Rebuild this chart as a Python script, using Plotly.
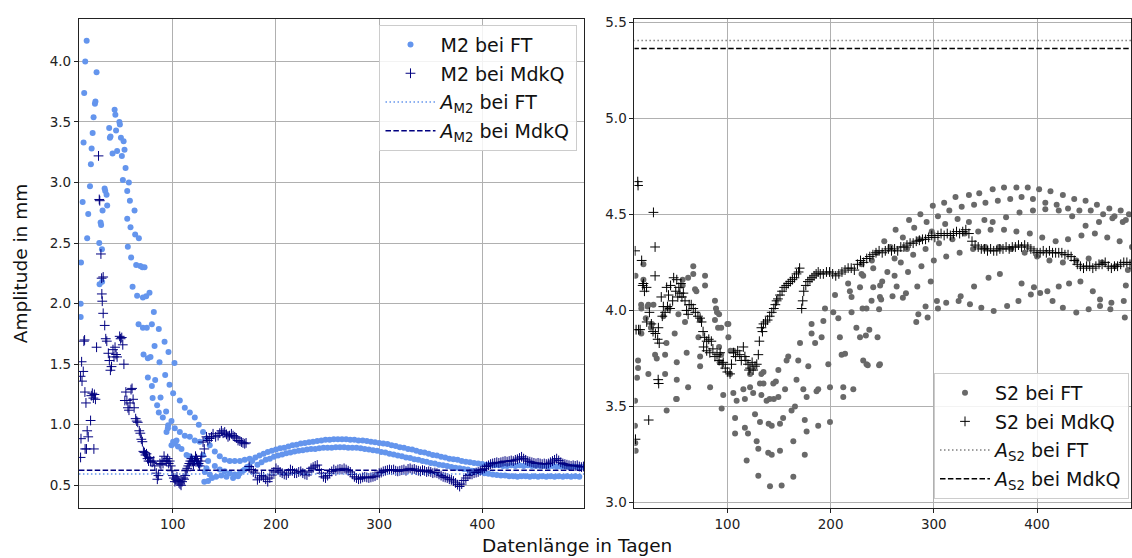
import plotly.graph_objects as go

# ------------------------------------------------------------------
# Data
# ------------------------------------------------------------------
# --- M2, Fourier transform (FT): scattered early points ---
m2_ft_early_days = [
    10.7, 10.7, 11.0, 12.6, 13.5, 14.1, 15.1, 16.5, 17.0, 18.0,
    19.7, 20.6, 21.3, 22.3, 23.2, 24.5, 25.0, 26.1, 28.7, 29.0,
    30.0, 30.5, 31.3, 31.5, 31.9, 33.9, 34.5, 35.8, 36.4, 38.3,
    39.0, 39.6, 41.6, 43.6, 44.3, 45.0, 46.0, 48.2, 48.7, 49.7,
    50.6, 51.6, 52.3, 53.2, 54.2, 55.8, 55.8, 56.4, 57.4, 58.4,
    59.0, 59.6, 61.0, 62.9, 63.5, 64.5, 65.4, 66.8, 67.1, 68.5,
    70.5, 71.0, 71.0, 71.6, 72.6, 74.2, 74.8, 75.8, 75.8, 77.4,
    78.4, 79.7, 79.7, 80.4, 81.6, 82.3, 82.9, 84.8, 86.4, 86.4,
    87.1, 88.1, 90.3, 92.0, 92.6, 93.5, 93.9, 95.2, 95.5, 95.8,
    96.8, 98.7, 98.7, 100.3, 100.3, 101.6, 101.9, 102.0, 103.6, 105.0,
    106.8, 106.8, 108.4, 111.6, 111.6, 113.3, 116.5, 116.5, 116.5, 119.5,
    121.3, 121.3, 122.6, 125.2, 126.1, 126.1, 129.3, 129.3, 130.5, 131.0,
    132.6, 132.6, 134.2, 134.2, 135.8, 135.8, 138.0, 140.7, 140.7, 142.0,
    145.5, 145.5, 147.0, 150.3, 150.3, 152.0, 155.2, 155.2, 158.4, 160.0,
    160.0, 163.2, 165.0, 165.0, 168.0, 169.7, 169.7, 172.0, 174.5, 174.5,
    177.0,
]
m2_ft_early_amp = [
    2.00, 1.89, 2.34, 2.84, 3.33, 3.74, 4.00, 4.17, 2.54, 2.74,
    2.97, 3.15, 3.28, 3.41, 3.54, 3.65, 3.67, 3.91, 2.50, 2.16,
    2.67, 2.65, 2.45, 2.18, 2.77, 2.95, 2.93, 2.90, 2.81, 3.45,
    3.37, 3.38, 3.24, 3.60, 3.56, 3.43, 3.26, 3.50, 3.48, 3.37,
    3.22, 3.02, 3.34, 3.27, 3.12, 2.93, 2.70, 2.47, 3.00, 2.85,
    2.63, 2.38, 2.14, 2.77, 2.57, 2.32, 2.065, 1.83, 2.54, 2.31,
    2.30, 2.05, 1.80, 1.58, 2.30, 2.06, 1.80, 1.55, 1.39, 2.09,
    1.56, 1.83, 1.32, 1.22, 1.93, 1.65, 1.37, 1.16, 1.79, 1.10,
    1.515, 1.225, 1.06, 1.685, 1.41, 1.11, 0.94, 0.97, 0.995, 1.60,
    1.33, 1.03, 0.83, 1.26, 0.86, 1.51, 0.97, 0.845, 0.87, 0.82,
    1.20, 0.94, 0.80, 1.14, 0.91, 0.75, 1.10, 0.90, 0.74, 0.72,
    1.06, 0.87, 0.70, 1.00, 0.86, 0.67, 0.94, 0.75, 0.53, 0.61,
    0.886, 0.64, 0.70, 0.535, 0.83, 0.59, 0.56, 0.78, 0.66, 0.57,
    0.74, 0.63, 0.58, 0.71, 0.615, 0.57, 0.70, 0.60, 0.56, 0.70,
    0.59, 0.575, 0.70, 0.60, 0.62, 0.71, 0.63, 0.65, 0.72, 0.66,
    0.70,
]
# --- M2 FT: dense band after day 180 (upper branch every 4 days from 180) ---
m2_ft_upper_start = 180
m2_ft_upper_amp = [
    0.73, 0.745, 0.76, 0.775, 0.785, 0.795, 0.805, 0.81, 0.82, 0.83,
    0.835, 0.845, 0.85, 0.855, 0.86, 0.865, 0.87, 0.875, 0.875, 0.88,
    0.88, 0.88, 0.88, 0.875, 0.875, 0.87, 0.87, 0.865, 0.86, 0.855,
    0.85, 0.845, 0.84, 0.83, 0.825, 0.815, 0.81, 0.80, 0.795, 0.785,
    0.775, 0.77, 0.76, 0.75, 0.745, 0.735, 0.73, 0.72, 0.715, 0.71,
    0.70, 0.695, 0.69, 0.685, 0.68, 0.675, 0.67, 0.67, 0.665, 0.665,
    0.66, 0.66, 0.665, 0.66, 0.665, 0.66, 0.665, 0.66, 0.66, 0.66,
    0.66, 0.655, 0.66, 0.655, 0.655, 0.655, 0.65, 0.655, 0.65, 0.65,
]
# lower branch every 4 days from 182
m2_ft_lower_start = 182
m2_ft_lower_amp = [
    0.67, 0.69, 0.71, 0.72, 0.735, 0.745, 0.755, 0.765, 0.77, 0.78,
    0.785, 0.79, 0.795, 0.80, 0.80, 0.805, 0.81, 0.81, 0.81, 0.815,
    0.815, 0.815, 0.81, 0.81, 0.81, 0.805, 0.80, 0.795, 0.79, 0.785,
    0.775, 0.77, 0.76, 0.755, 0.745, 0.74, 0.73, 0.725, 0.715, 0.71,
    0.70, 0.695, 0.685, 0.68, 0.67, 0.665, 0.66, 0.65, 0.645, 0.64,
    0.635, 0.63, 0.62, 0.615, 0.61, 0.60, 0.595, 0.59, 0.585, 0.58,
    0.58, 0.575, 0.575, 0.57, 0.575, 0.575, 0.57, 0.575, 0.57, 0.575,
    0.57, 0.575, 0.57, 0.575, 0.57, 0.575, 0.57, 0.575, 0.57,
]

# --- M2, least squares (MdkQ): early scattered points ---
m2_mdkq_early_days = [
    10.6, 11.0, 10.6, 11.6, 12.0, 13.2, 13.8, 14.5, 14.8, 15.8,
    15.0, 16.3, 17.0, 18.0, 20.3, 21.0, 22.0, 23.0, 24.0, 25.0,
    23.5, 26.1, 28.0, 28.7, 29.2, 30.3, 31.0, 32.5, 31.2, 31.6,
    32.5, 34.0, 35.0, 36.0, 37.5, 38.5, 39.5, 40.6, 42.0, 43.0,
    44.0, 45.0, 46.0, 48.5, 49.4, 50.5, 51.5, 52.6, 53.5, 54.5,
    55.5, 56.5, 57.5, 58.5, 59.5, 60.5, 61.5, 62.5, 64.0, 65.0,
    66.0, 67.5, 68.5, 69.5, 70.5, 71.5, 72.5, 73.5, 74.5, 75.5,
    76.5, 77.5, 78.5, 80.0, 81.5, 82.5,
    84.0, 85.0, 86.0, 87.5, 88.5, 89.5, 90.5, 91.5, 92.5, 94.0,
    95.0, 96.0, 97.0, 98.0, 99.0, 100.0, 101.0, 102.0, 103.0, 104.0,
    105.0, 106.0, 107.0, 108.0, 109.0, 110.0, 111.0, 112.0, 113.0, 114.0,
    115.0, 116.0, 117.0, 118.0, 119.0, 120.0, 121.0, 122.0, 123.0, 124.0,
    125.0, 126.0, 127.0, 128.0,
    129.3, 130.5, 132.6, 134.0, 135.8, 137.5, 139.0, 141.5, 143.9, 145.5,
    147.1, 148.7, 150.3, 152.0, 153.5, 155.0, 156.8, 158.4, 160.0, 161.6,
    163.2, 165.0, 166.5, 168.0, 169.7, 171.0,
]
m2_mdkq_early_amp = [
    0.73, 0.885, 1.40, 1.52, 1.36, 1.44, 1.69, 1.70, 1.27, 1.18,
    0.80, 0.80, 0.95, 0.90, 1.035, 1.24, 1.26, 1.22, 1.25, 1.21,
    0.80, 1.64, 3.22, 2.86, 2.85, 2.41, 2.21, 2.22, 2.08, 2.02,
    1.92, 1.82, 1.71, 1.69, 1.59, 1.53, 1.45, 1.48, 1.62, 1.56,
    1.64, 1.58, 1.56, 1.73, 1.71, 1.72, 1.66, 1.50, 1.20, 1.27,
    1.20, 1.14, 1.12, 1.18, 1.29, 1.30, 1.21, 1.14, 1.05, 1.03,
    1.02, 0.95, 0.93, 0.88, 0.86, 0.78, 0.77, 0.75, 0.76, 0.72,
    0.70, 0.73, 0.70, 0.69, 0.70, 0.66,
    0.60, 0.55, 0.58, 0.68, 0.67, 0.70, 0.68, 0.74, 0.70, 0.70,
    0.72, 0.68, 0.70, 0.66, 0.62, 0.58, 0.56, 0.53, 0.55, 0.57,
    0.54, 0.52, 0.51, 0.50, 0.53, 0.56, 0.55, 0.58, 0.62, 0.64,
    0.66, 0.68, 0.70, 0.72, 0.70, 0.67, 0.70, 0.74, 0.72, 0.70,
    0.68, 0.66, 0.70, 0.74,
    0.857, 0.80, 0.90, 0.87, 0.886, 0.90, 0.925, 0.90, 0.91, 0.93,
    0.95, 0.93, 0.94, 0.92, 0.90, 0.91, 0.925, 0.91, 0.90, 0.89,
    0.87, 0.865, 0.857, 0.85, 0.843, 0.85,
]
# --- M2 MdkQ: every 2 days from day 174 ---
m2_mdkq_late_start = 174
m2_mdkq_late_amp = [
    0.655, 0.63, 0.61, 0.60, 0.545, 0.56, 0.58, 0.57, 0.55, 0.53,     # 174-192
    0.56, 0.585, 0.61, 0.64, 0.625, 0.61, 0.60, 0.59, 0.585, 0.60,    # 194-212
    0.63, 0.62, 0.60, 0.60, 0.61, 0.615, 0.60, 0.59, 0.585, 0.61,     # 214-232
    0.64, 0.65, 0.66, 0.667, 0.63, 0.60, 0.57, 0.56, 0.58, 0.60,      # 234-252
    0.615, 0.63, 0.62, 0.63, 0.635, 0.63, 0.64, 0.63, 0.62, 0.61,     # 254-272
    0.59, 0.57, 0.56, 0.55, 0.555, 0.565, 0.57, 0.565, 0.56, 0.565,   # 274-292
    0.57, 0.575, 0.585, 0.60, 0.605, 0.615, 0.62, 0.625, 0.63, 0.625, # 294-312
    0.63, 0.62, 0.615, 0.62, 0.625, 0.63, 0.62, 0.635, 0.64, 0.63,    # 314-332
    0.635, 0.625, 0.62, 0.615, 0.625, 0.62, 0.61, 0.615, 0.61, 0.60,  # 334-352
    0.605, 0.60, 0.59, 0.58, 0.57, 0.565, 0.56, 0.55, 0.545, 0.535,   # 354-372
    0.52, 0.505, 0.49, 0.51, 0.54, 0.56, 0.58, 0.59, 0.59, 0.60,      # 374-392
    0.605, 0.61, 0.62, 0.63, 0.64, 0.655, 0.665, 0.675, 0.68, 0.685,  # 394-412
    0.69, 0.685, 0.69, 0.695, 0.70, 0.695, 0.70, 0.705, 0.70, 0.71,   # 414-432
    0.715, 0.725, 0.735, 0.72, 0.71, 0.70, 0.695, 0.69, 0.685, 0.68,  # 434-452
    0.685, 0.68, 0.675, 0.68, 0.675, 0.68, 0.69, 0.70, 0.71, 0.72,    # 454-472
    0.705, 0.69, 0.68, 0.675, 0.67, 0.665, 0.66, 0.665, 0.66, 0.665,  # 474-492
    0.655, 0.65, 0.655,                                               # 494-498
]
m2_mean_ft = 0.594
m2_mean_mdkq = 0.624

# --- S2, FT: scattered points before ~day 250 ---
s2_ft_early_days = [
    10.6, 10.5, 10.8, 11.2, 13.5, 13.5, 12.5, 18.7, 18.7, 23.5,
    28.4, 16.7, 16.7, 21.0, 26.0, 23.5, 31.6, 41.2, 39.7, 39.7,
    38.0, 43.0, 41.0, 49.0, 51.0, 51.0, 51.0, 60.6, 62.0, 52.6,
    59.0, 56.7, 56.7, 67.0, 67.0, 68.7, 78.4, 78.4, 73.6, 72.0,
    73.6, 73.6, 83.3, 88.0, 90.0, 88.0, 91.0, 94.0, 92.0, 94.0,
    92.5, 94.5, 96.0, 101.0, 101.0, 103.0, 106.0, 102.6, 105.8, 107.5,
    107.5, 109.0, 115.5, 117.0, 117.0, 118.7, 120.0, 122.0, 125.0, 122.0,
    126.8, 128.4, 130.0, 130.0, 131.6, 131.6, 135.0, 133.0, 138.0, 135.0,
    133.0, 140.0, 143.0, 151.0, 141.3, 152.6, 139.6, 143.0, 151.0, 141.0,
    145.0, 149.4, 144.5, 147.0, 149.4, 154.0, 155.9, 157.4, 159.0, 163.9,
    162.2, 165.5, 163.9, 167.0, 168.7, 170.4, 173.6, 176.8, 175.0, 175.0,
    176.8, 178.4, 181.6, 181.6, 185.0, 186.4, 188.0, 188.0, 191.3, 193.0,
    194.6, 197.8, 199.4, 199.4, 202.6, 204.3, 207.5, 209.0, 210.7, 214.0,
    212.3, 212.3, 217.0, 218.7, 220.3, 220.3, 222.0, 225.0, 228.5, 228.5,
    230.0, 231.6, 231.6, 234.8, 234.8, 239.7, 241.3, 241.3, 247.8, 247.8,
    230.0, 240.0, 245.0, 234.2, 237.5, 245.5, 236.0, 247.0, 11.0, 16.5,
    22.7, 27.0, 30.0, 50.4, 89.0, 92.0, 100.0, 62.0, 70.0,
]
s2_ft_early_amp = [
    3.53, 3.40, 3.31, 3.27, 3.74, 3.70, 3.65, 4.24, 4.16, 4.03,
    4.03, 4.01, 3.88, 3.96, 3.91, 3.67, 3.75, 3.48, 3.77, 3.67,
    3.97, 4.01, 3.83, 3.88, 3.73, 3.64, 3.54, 3.78, 3.60, 3.98,
    3.94, 4.16, 4.13, 4.23, 4.19, 4.11, 4.18, 4.13, 3.95, 3.86,
    3.76, 3.71, 3.60, 4.05, 3.99, 3.95, 3.91, 3.91, 3.81, 3.77,
    3.73, 3.49, 3.56, 3.93, 3.86, 3.79, 3.79, 3.67, 3.57, 3.44,
    3.36, 3.53, 3.59, 3.54, 3.39, 3.22, 3.36, 3.60, 3.57, 3.67,
    3.46, 3.32, 3.28, 3.14, 3.42, 3.62, 3.62, 3.56, 3.53, 3.68,
    3.67, 3.41, 3.40, 3.41, 3.085, 3.09, 3.26, 3.25, 3.27, 3.54,
    3.54, 3.55, 3.62, 3.63, 3.69, 3.44, 3.59, 3.74, 3.76, 3.135,
    3.48, 3.50, 3.32, 3.64, 3.74, 3.83, 3.59, 3.55, 3.43, 3.25,
    3.37, 3.71, 3.93, 3.88, 3.83, 3.58, 3.59, 3.40, 3.86, 3.945,
    4.01, 3.72, 3.60, 3.42, 3.99, 4.08, 3.96, 3.86, 3.77, 3.775,
    3.60, 3.55, 4.14, 4.10, 4.07, 3.99, 3.59, 3.91, 3.86, 4.12,
    4.19, 4.18, 3.74, 4.01, 3.72, 4.05, 4.12, 4.22, 4.07, 3.72,
    4.24, 4.26, 4.30, 3.87, 3.90, 3.86, 3.715, 3.715, 4.18, 4.03,
    4.02, 3.93, 3.77, 3.54, 4.01, 3.98, 3.93, 4.17, 4.10,
]
# --- S2 FT: branches after ~day 230 ---
s2_ft_row1_days = [252, 263, 276, 287, 299, 310, 321, 334, 344, 357, 368,
                   380, 391, 402, 413, 425, 436, 447, 458, 470, 481, 489]
s2_ft_row1_amp = [4.36, 4.42, 4.47, 4.50, 4.545, 4.56, 4.59, 4.60, 4.61, 4.63, 4.64,
                  4.64, 4.64, 4.63, 4.62, 4.60, 4.58, 4.57, 4.55, 4.53, 4.52, 4.50]
s2_ft_row2_days = [258, 270, 281, 293, 304, 315, 327, 339, 350, 362, 374,
                   385, 396, 408, 419, 430, 441, 452, 464, 475, 486]
s2_ft_row2_amp = [4.33, 4.38, 4.43, 4.46, 4.49, 4.52, 4.54, 4.55, 4.56, 4.57, 4.58,
                  4.59, 4.58, 4.56, 4.55, 4.53, 4.52, 4.52, 4.50, 4.49, 4.47]
s2_ft_row3_days = [262, 274, 286, 298, 311, 323, 334, 349, 357, 370,
                   383, 396, 408, 421, 434, 447, 460, 473, 483]
s2_ft_row3_amp = [4.27, 4.32, 4.37, 4.41, 4.45, 4.476, 4.46, 4.47, 4.46, 4.485,
                  4.51, 4.52, 4.527, 4.52, 4.49, 4.44, 4.46, 4.48, 4.46]
s2_ft_row4_days = [255, 268, 280, 292, 305, 318, 330, 343, 355, 368,
                   380, 393, 405, 418, 430, 443, 456, 468, 480, 492]
s2_ft_row4_amp = [4.20, 4.25, 4.29, 4.32, 4.35, 4.37, 4.40, 4.41, 4.42, 4.42,
                  4.41, 4.40, 4.38, 4.36, 4.37, 4.39, 4.40, 4.38, 4.36, 4.33]
s2_ft_row5_days = [250, 262, 275, 288, 300, 312, 325, 338, 350, 363,
                   375, 388, 400, 412, 425, 438, 450, 463, 476, 488]
s2_ft_row5_amp = [4.15, 4.18, 4.20, 4.23, 4.26, 4.28, 4.30, 4.32, 4.33, 4.33,
                  4.32, 4.30, 4.28, 4.26, 4.25, 4.26, 4.27, 4.25, 4.23, 4.21]
s2_ft_row6_days = [248, 264, 284, 297, 339, 353, 364, 385, 397, 410, 421, 431, 442, 454, 486]
s2_ft_row6_amp = [4.13, 4.125, 4.125, 4.15, 4.125, 4.17, 4.19, 4.14, 4.12, 4.10,
                  4.125, 4.14, 4.15, 4.10, 4.13]
s2_ft_row7_days = [231, 247, 249, 260, 270, 273, 285, 283, 292, 294,
                   303, 304, 312, 324, 326, 335, 346, 358, 371, 382,
                   394, 403, 415, 425, 438, 450, 461, 461, 472, 471, 484, 485]
s2_ft_row7_amp = [4.01, 4.006, 4.057, 4.074, 4.066, 4.09, 3.98, 3.94, 4.02, 3.963,
                  4.049, 4.01, 4.04, 4.049, 4.074, 4.032, 4.014, 3.997, 4.023, 4.049,
                  4.083, 4.091, 4.049, 4.014, 3.989, 4.006, 4.057, 4.023, 4.04, 4.006,
                  4.049, 3.963]

# --- S2 MdkQ: early scattered points ---
s2_mdkq_early_days = [
    10.6, 11.0, 11.6, 13.2, 13.5, 14.0, 15.5, 17.0, 18.0, 18.7,
    19.7, 21.7, 21.9, 23.8, 24.5, 26.4, 28.4, 28.0, 30.0, 30.0,
    30.3, 32.5, 33.0, 33.5, 33.2, 34.0, 36.0, 37.0, 38.0, 39.7,
    41.2, 42.0, 43.0, 44.5, 45.0, 47.0, 48.0, 50.0, 51.0, 52.0,
    53.0, 54.0, 55.0, 56.0, 57.4, 59.0, 60.5, 62.0, 63.0, 65.0,
    67.0, 69.0, 71.5, 73.6, 75.0, 76.5, 77.0, 78.0, 80.0, 80.0,
    82.0, 83.0, 84.5, 86.0, 88.0, 90.0, 92.0, 93.0, 95.0, 96.0,
    98.0, 100.0, 102.6, 104.0, 106.0, 108.0, 110.0, 112.0, 113.5, 115.5,
    117.0, 118.0, 120.0, 121.0, 122.0, 124.0, 125.0, 126.8, 128.5, 130.0,
    131.0, 133.0, 134.0, 135.0, 137.0, 139.0, 141.0, 143.0, 145.0, 146.5,
    147.7, 149.0, 151.0, 153.0, 155.0, 157.0, 159.0, 161.0, 163.0, 165.0,
    167.0, 169.0, 170.0,
    172.0, 173.0, 174.0, 176.0, 178.0, 180.0, 182.0, 184.0, 186.0, 188.0,
]
s2_mdkq_early_amp = [
    4.31, 3.33, 3.90, 4.67, 4.65, 3.90, 3.90, 4.26, 4.13, 4.14,
    4.10, 4.12, 3.94, 3.43, 3.99, 3.93, 4.51, 3.89, 4.33, 4.18,
    3.88, 3.85, 3.64, 3.62, 3.91, 3.83, 4.07, 3.97, 4.02, 3.99,
    4.12, 4.02, 4.08, 4.01, 4.13, 4.05, 4.17, 4.10, 4.16, 4.07,
    4.12, 4.09, 4.14, 4.07, 4.09, 4.05, 4.00, 3.98, 4.03, 4.03,
    4.01, 3.99, 3.97, 3.96, 3.94, 3.89, 3.81, 3.86, 3.84, 3.79,
    3.85, 3.78, 3.84, 3.80, 3.76, 3.77, 3.74, 3.78, 3.72, 3.73,
    3.70, 3.68, 3.67, 3.72, 3.78, 3.76, 3.79, 3.77, 3.74, 3.81,
    3.76, 3.74, 3.72, 3.69, 3.70, 3.73, 3.69, 3.71, 3.72, 3.77,
    3.84, 3.91, 3.89, 3.93, 3.94, 3.95, 3.97, 3.99, 4.01, 4.03,
    4.05, 4.06, 4.08, 4.10, 4.12, 4.13, 4.14, 4.15, 4.16, 4.17,
    4.19, 4.20, 4.22,
    4.01, 4.05, 4.10, 4.13, 4.15, 4.16, 4.17, 4.18, 4.19, 4.20,
]
# --- S2 MdkQ: every 3 days from day 190 ---
s2_mdkq_late_start = 190
s2_mdkq_late_amp = [
    4.19, 4.19, 4.20, 4.20, 4.19, 4.18, 4.19, 4.20, 4.21, 4.22,    # 190-217
    4.22, 4.21, 4.24, 4.26, 4.25, 4.27, 4.28, 4.29, 4.30, 4.31,    # 220-247
    4.30, 4.31, 4.32, 4.31, 4.32, 4.31, 4.33, 4.33, 4.34, 4.35,    # 250-277
    4.35, 4.36, 4.365, 4.37, 4.37, 4.38, 4.39, 4.38, 4.39, 4.40,   # 280-307
    4.39, 4.40, 4.39, 4.40, 4.41, 4.40, 4.41, 4.42, 4.40, 4.36,    # 310-337
    4.34, 4.33, 4.32, 4.32, 4.31, 4.32, 4.31, 4.31, 4.32, 4.32,    # 340-367
    4.33, 4.32, 4.33, 4.33, 4.34, 4.33, 4.34, 4.33, 4.32, 4.31,    # 370-397
    4.30, 4.30, 4.31, 4.30, 4.31, 4.30, 4.30, 4.30, 4.30, 4.29,    # 400-427
    4.29, 4.28, 4.26, 4.24, 4.23, 4.22, 4.23, 4.23, 4.22, 4.23,    # 430-457
    4.24, 4.24, 4.25, 4.23, 4.22, 4.23, 4.23, 4.24, 4.25, 4.25,    # 460-487
    4.24, 4.25, 4.24, 4.24,                                        # 490-499
]
s2_mean_ft = 5.404
s2_mean_mdkq = 5.363

x_range_left = [9, 499]
x_range_right = [10, 491]
y_range_left = [0.315, 4.352]
y_range_right = [2.974, 5.517]
ticks_x = [100, 200, 300, 400]
ticks_y_left = [0.5, 1.0, 1.5, 2.0, 2.5, 3.0, 3.5, 4.0]
ticks_y_right = [3.0, 3.5, 4.0, 4.5, 5.0, 5.5]

# ------------------------------------------------------------------
# Assemble series
# ------------------------------------------------------------------
def grid(start, step, n):
    return [start + step * i for i in range(n)]

m2_ft_days = (m2_ft_early_days
              + grid(m2_ft_upper_start, 4, len(m2_ft_upper_amp))
              + grid(m2_ft_lower_start, 4, len(m2_ft_lower_amp)))
m2_ft_amp = m2_ft_early_amp + m2_ft_upper_amp + m2_ft_lower_amp
m2_mdkq_days = m2_mdkq_early_days + grid(m2_mdkq_late_start, 2, len(m2_mdkq_late_amp))
m2_mdkq_amp = m2_mdkq_early_amp + m2_mdkq_late_amp

s2_ft_days = (s2_ft_early_days + s2_ft_row1_days + s2_ft_row2_days + s2_ft_row3_days
              + s2_ft_row4_days + s2_ft_row5_days + s2_ft_row6_days + s2_ft_row7_days)
s2_ft_amp = (s2_ft_early_amp + s2_ft_row1_amp + s2_ft_row2_amp + s2_ft_row3_amp
             + s2_ft_row4_amp + s2_ft_row5_amp + s2_ft_row6_amp + s2_ft_row7_amp)
s2_mdkq_days = s2_mdkq_early_days + grid(s2_mdkq_late_start, 3, len(s2_mdkq_late_amp))
s2_mdkq_amp = s2_mdkq_early_amp + s2_mdkq_late_amp

# ------------------------------------------------------------------
# Figure
# ------------------------------------------------------------------
W, H = 1132, 558
FONT = "DejaVu Sans"
C_M2_FT = "#6495ED"
C_M2_MQ = "#000080"
C_S2_FT = "#696969"
C_S2_MQ = "#000000"
DOT = "1.5px,2.5px"
DASH = "5.5px,2.4px"

fig = go.Figure()

fig.add_trace(go.Scatter(
    x=m2_ft_days, y=m2_ft_amp, mode="markers", name="M2 bei FT",
    marker=dict(symbol="circle", size=6, color=C_M2_FT),
    xaxis="x", yaxis="y", legend="legend", legendgroup="l1"))
fig.add_trace(go.Scatter(
    x=m2_mdkq_days, y=m2_mdkq_amp, mode="markers", name="M2 bei MdkQ",
    marker=dict(symbol="cross-thin", size=7, color=C_M2_MQ,
                line=dict(width=1, color=C_M2_MQ)),
    xaxis="x", yaxis="y", legend="legend", legendgroup="l2"))
fig.add_trace(go.Scatter(
    x=x_range_left, y=[m2_mean_ft, m2_mean_ft], mode="lines",
    name="<i>A</i><sub>M2</sub> bei FT",
    line=dict(color=C_M2_FT, width=1.5, dash=DOT),
    xaxis="x", yaxis="y", legend="legend", legendgroup="l3"))
fig.add_trace(go.Scatter(
    x=x_range_left, y=[m2_mean_mdkq, m2_mean_mdkq], mode="lines",
    name="<i>A</i><sub>M2</sub> bei MdkQ",
    line=dict(color=C_M2_MQ, width=1.5, dash=DASH),
    xaxis="x", yaxis="y", legend="legend", legendgroup="l4"))

fig.add_trace(go.Scatter(
    x=s2_ft_days, y=s2_ft_amp, mode="markers", name="S2 bei FT",
    marker=dict(symbol="circle", size=6, color=C_S2_FT),
    xaxis="x2", yaxis="y2", legend="legend2", legendgroup="r1"))
fig.add_trace(go.Scatter(
    x=s2_mdkq_days, y=s2_mdkq_amp, mode="markers", name="S2 bei MdkQ",
    marker=dict(symbol="cross-thin", size=7, color=C_S2_MQ,
                line=dict(width=1, color=C_S2_MQ)),
    xaxis="x2", yaxis="y2", legend="legend2", legendgroup="r2"))
fig.add_trace(go.Scatter(
    x=x_range_left, y=[s2_mean_ft, s2_mean_ft], mode="lines",
    name="<i>A</i><sub>S2</sub> bei FT",
    line=dict(color="#808080", width=1.5, dash=DOT),
    xaxis="x2", yaxis="y2", legend="legend2", legendgroup="r3"))
fig.add_trace(go.Scatter(
    x=x_range_left, y=[s2_mean_mdkq, s2_mean_mdkq], mode="lines",
    name="<i>A</i><sub>S2</sub> bei MdkQ",
    line=dict(color=C_S2_MQ, width=1.5, dash=DASH),
    xaxis="x2", yaxis="y2", legend="legend2", legendgroup="r4"))

axis_common = dict(
    showline=True, mirror=True, linecolor="#222222", linewidth=1,
    ticks="outside", ticklen=4, tickwidth=1, tickcolor="#222222",
    showgrid=True, gridcolor="#b0b0b0", gridwidth=1, zeroline=False,
    tickfont=dict(family=FONT, size=13.5, color="#222222"),
)
y_dom = [1 - 510 / H, 1 - 14 / H]

legend_common = dict(
    bgcolor="rgba(255,255,255,0.85)", bordercolor="#cccccc", borderwidth=1,
    font=dict(family=FONT, size=19, color="#111111"),
    traceorder="grouped", tracegroupgap=1, itemwidth=50,
)

fig.update_layout(
    width=W, height=H,
    margin=dict(l=0, r=0, t=0, b=0),
    paper_bgcolor="white", plot_bgcolor="white",
    font=dict(family=FONT, color="#111111"),
    xaxis=dict(domain=[79 / W, 585 / W], range=x_range_left, anchor="y",
               tickvals=ticks_x, **axis_common),
    yaxis=dict(domain=y_dom, range=y_range_left, anchor="x",
               tickvals=ticks_y_left, tickformat=".1f", **axis_common),
    xaxis2=dict(domain=[635 / W, 1.0], range=x_range_right, anchor="y2",
                tickvals=ticks_x, **axis_common),
    yaxis2=dict(domain=y_dom, range=y_range_right, anchor="x2",
                tickvals=ticks_y_right, tickformat=".1f", **axis_common),
    legend=dict(x=578 / W, xanchor="right", y=1 - 20 / H, yanchor="top",
                **legend_common),
    legend2=dict(x=1130 / W, xanchor="right", y=1 - 501 / H, yanchor="bottom",
                 **legend_common),
    showlegend=True,
    annotations=[
        dict(text="Amplitude in mm", x=20 / W, y=1 - 262 / H, xref="paper", yref="paper",
             xanchor="center", yanchor="middle", textangle=-90, showarrow=False,
             font=dict(family=FONT, size=18.5, color="#111111")),
        dict(text="Datenlänge in Tagen", x=578 / W, y=1 - 548 / H, xref="paper", yref="paper",
             xanchor="center", yanchor="middle", showarrow=False,
             font=dict(family=FONT, size=18.5, color="#111111")),
    ],
)

fig.write_html("out.html")
